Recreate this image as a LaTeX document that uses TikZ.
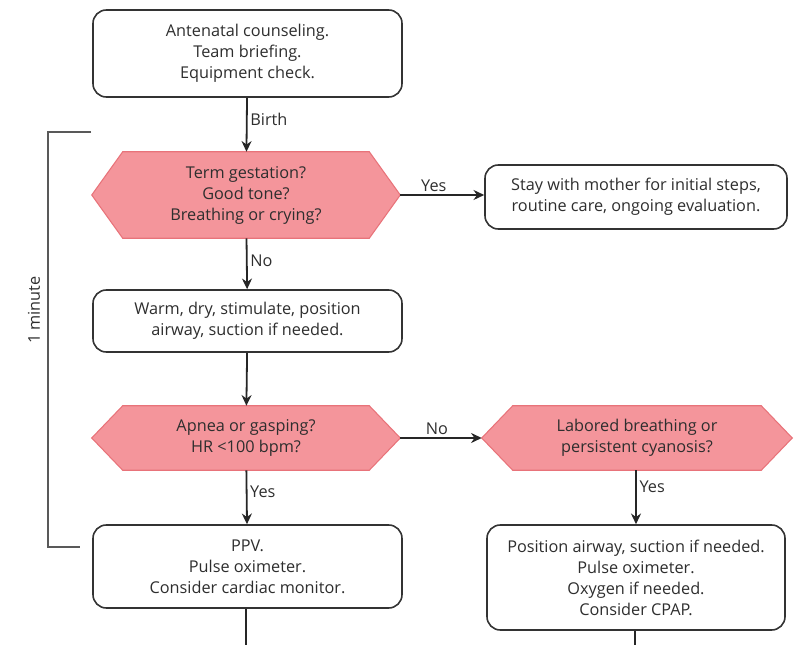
\documentclass[tikz,border=0pt]{standalone}
\usepackage{fontspec}
\setmainfont{Open Sans}
\usepackage{xcolor}
\usepackage{tikz}
\usetikzlibrary{arrows.meta, positioning, calc, backgrounds}
\definecolor{txtgray}{HTML}{2E2E2E}
\definecolor{qfill}{HTML}{F4959B}
\definecolor{qline}{HTML}{E8737A}
% hexagonal outline behind a question node (tips at .west / .east)
\newcommand{\hexq}[1]{%
    \begin{pgfonlayer}{background}
        \draw[qhex] ($(#1.north west)+(31,0)$) -- ($(#1.north east)+(-31,0)$) -- (#1.east)
            -- ($(#1.south east)+(-31,0)$) -- ($(#1.south west)+(31,0)$) -- (#1.west) -- cycle;
    \end{pgfonlayer}}

\begin{document}
\begin{tikzpicture}[
            x=0.75pt, y=-0.75pt,
            font=\fontsize{12.2}{15.75}\selectfont,
            >={Stealth[length=8pt, width=7.5pt]},
            % steps: rounded white boxes, questions: pink hexagons
            step box/.style ={draw=black!80, line width=1.2pt, rounded corners=10pt,
                              fill=white, align=center, text=txtgray, inner sep=0pt},
            question/.style ={align=center, text=txtgray, inner sep=0pt},
            qhex/.style     ={draw=qline, fill=qfill, line width=0.8pt},
            flow/.style     ={line width=1.35pt, draw=black!85},
            lbl/.style      ={text=txtgray, inner sep=2pt},
            bracket/.style  ={line width=1.2pt, draw=black!65}
        ]
        \useasboundingbox (0,0) rectangle (797,645);

        %% ===== left column =====
        \node[step box, minimum width=231.75pt, minimum height=65.25pt] (prep) at (247.5,53.5)
            {Antenatal counseling.\\ Team briefing.\\ Equipment check.};

        \node[question, minimum width=231pt, minimum height=64.5pt] (term) at (246,195)
            {Term gestation?\\ Good tone?\\ Breathing or crying?};
        \hexq{term}

        \node[step box, minimum width=231.75pt, minimum height=46.5pt] (warm) at (247.5,321)
            {Warm, dry, stimulate, position\\ airway, suction if needed.};

        \node[question, minimum width=231pt, minimum height=48pt] (apnea) at (246,438)
            {Apnea or gasping?\\ HR <100 bpm?};
        \hexq{apnea}

        \node[step box, minimum width=231.75pt, minimum height=62.25pt] (ppv) at (247.5,566.5)
            {PPV.\\ Pulse oximeter.\\ Consider cardiac monitor.};

        %% ===== right column =====
        \node[step box, minimum width=226.5pt, minimum height=48pt] (mother) at (636,197)
            {Stay with mother for initial steps,\\ routine care, ongoing evaluation.};

        \node[question, minimum width=232.5pt, minimum height=48pt] (labored) at (637,438)
            {Labored breathing or\\ persistent cyanosis?};
        \hexq{labored}

        \node[step box, minimum width=223.5pt, minimum height=78.75pt] (cpap) at (636,577.5)
            {Position airway, suction if needed.\\ Pulse oximeter.\\ Oxygen if needed.\\ Consider CPAP.};

        %% ===== connectors =====
        \draw[flow, ->] (prep) -- node[lbl, right, pos=0.4] {Birth} (term);
        \draw[flow, ->] (term.east) -- node[lbl, above, pos=0.4] {Yes} (term.east -| mother.west);
        \draw[flow, ->] (term) -- node[lbl, right, pos=0.45] {No} (warm);
        \draw[flow, ->] (warm) -- (apnea);
        \draw[flow, ->] (apnea.east) -- node[lbl, above, pos=0.45] {No} (labored.west);
        \draw[flow, ->] (apnea) -- node[lbl, right, pos=0.4] {Yes} (ppv);
        \draw[flow, ->] (labored.south -| cpap.north) -- node[lbl, right, pos=0.3] {Yes} (cpap.north);

        % lines run on past the lower edge
        \coordinate (ppvout) at (246,645);
        \coordinate (cpapout) at (635,645);
        \draw[flow] (ppv.south -| ppvout) -- (ppvout);
        \draw[flow] (cpap.south -| cpapout) -- (cpapout);

        %% ===== 1 minute bracket =====
        \coordinate (brtop) at (91,132);
        \coordinate (brbot) at (80,547);
        \draw[bracket] (brtop) -- (48,132) -- (48,547) -- (brbot);
        \node[lbl, rotate=90] (minute) at (34,310) {1 minute};

    \end{tikzpicture}
\end{document}
